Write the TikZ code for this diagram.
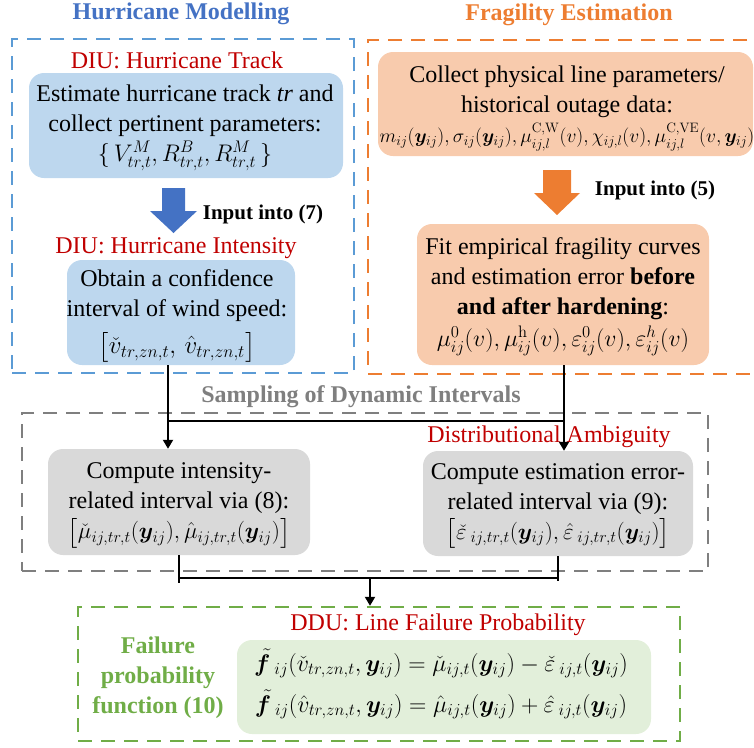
\RequirePackage{fix-cm}
\documentclass[tikz,border=0pt]{standalone}
\usepackage{amsmath}
\usepackage{bm}
\usepackage[no-math]{fontspec}
\setmainfont{Liberation Serif}
\usetikzlibrary{arrows.meta}
\definecolor{hblue}{HTML}{4472C4}
\definecolor{fblue}{HTML}{5B9BD5}
\definecolor{bfill}{HTML}{BDD7EE}
\definecolor{oline}{HTML}{ED7D31}
\definecolor{ofill}{HTML}{F8CBAD}
\definecolor{gline}{HTML}{7F7F7F}
\definecolor{gfill}{HTML}{D9D9D9}
\definecolor{grline}{HTML}{70AD47}
\definecolor{grfill}{HTML}{E2EFDA}
\definecolor{dred}{HTML}{C00000}
\newcommand{\mline}[2]{\smash{\fontsize{#1}{30}\selectfont$#2$}}
\tikzset{
  base/.style={font=\fontsize{24}{30}\selectfont, inner sep=0pt},
  frame/.style={draw, dash pattern=on 14pt off 9pt, line width=2.4pt, inner sep=0pt},
  roundbox/.style={rounded corners=15pt, inner sep=0pt},
  boxtext/.style={base, align=center},
  ttl/.style={font=\fontsize{24}{30}\selectfont\bfseries, inner sep=0pt},
  unitlbl/.style={base, text=dred},
  inlbl/.style={font=\fontsize{21}{26}\selectfont\bfseries, inner sep=0pt},
  conn/.style={line width=2pt},
  arr/.style={conn, -{Triangle[length=9pt,width=10pt]}},
}
\begin{document}
\begin{tikzpicture}[x=1pt,y=-1pt]
\useasboundingbox (0,0) rectangle (754,747);

% frames
\node[frame, draw=fblue, minimum width=342pt, minimum height=334pt] (hframe) at (183,206) {};
\node[frame, draw=oline, minimum width=402pt, minimum height=334pt] (oframe) at (569,207) {};
\node[frame, draw=gline, minimum width=686pt, minimum height=158pt] (gframe) at (365,492) {};
\node[frame, draw=grline, minimum width=602pt, minimum height=134pt] (grframe) at (379,674) {};

% titles
\node[ttl, text=hblue] (t1) at (181,14) {Hurricane Modelling};
\node[ttl, text=oline] (t2) at (569,15) {Fragility Estimation};
\node[ttl, text=gline] (t3) at (361,397) {Sampling of Dynamic Intervals};

% hurricane modelling
\node[unitlbl] (u1) at (177,60) {DIU: Hurricane Track};
\node[roundbox, fill=bfill, minimum width=314pt, minimum height=105pt] (track) at (186,125.5) {};
\node[boxtext] (tracktxt) at (185,122.8)
  {Estimate hurricane track \textit{tr} and\\ collect pertinent parameters:\\
   \mline{24}{\{\,V^{M}_{tr,t},R^{B}_{tr,t},R^{M}_{tr,t}\,\}}};
\fill[hblue] (162,188) -- (185,188) -- (185,211) -- (197,211) -- (173.5,233) -- (150,211) -- (162,211) -- cycle;
\node[inlbl] (in7) at (263,214) {Input into (7)};
\node[unitlbl] (u2) at (176,248) {DIU: Hurricane Intensity};
\node[roundbox, fill=bfill, minimum width=228pt, minimum height=105pt] (intens) at (181,312.5) {};
\node[boxtext] (intenstxt) at (177,311.3)
  {Obtain a confidence\\ interval of wind speed:\\[7pt]
   \mline{25}{\bigl[\check{v}_{tr,zn,t},\,\hat{v}_{tr,zn,t}\bigr]}};

% fragility estimation
\node[roundbox, fill=ofill, minimum width=375pt, minimum height=104pt] (collect) at (565.5,104) {};
\node[boxtext] (collecttxt) at (567,103.8)
  {Collect physical line parameters/\\ historical outage data:\\
   \mline{19.5}{m_{ij}(\bm{y}_{ij}),\sigma_{ij}(\bm{y}_{ij}),\mu^{\mathrm{C,W}}_{ij,l}(v),\chi_{ij,l}(v),\mu^{\mathrm{C,VE}}_{ij,l}(v,\bm{y}_{ij})}};
\fill[oline] (543,170) -- (571,170) -- (571,193) -- (580,193) -- (557,215) -- (534,193) -- (543,193) -- cycle;
\node[inlbl] (in5) at (655,190) {Input into (5)};
\node[roundbox, fill=ofill, minimum width=292pt, minimum height=141pt] (frag) at (563,294.5) {};
\node[boxtext] (fragtxt) at (563,291.8)
  {Fit empirical fragility curves\\ and estimation error \textbf{before}\\ \textbf{and after hardening}:\\[2pt]
   \mline{23.8}{\mu^{0}_{ij}(v),\mu^{\mathrm{h}}_{ij}(v),\varepsilon^{0}_{ij}(v),\varepsilon^{h}_{ij}(v)}};

% sampling
\node[unitlbl] (u3) at (549,437) {Distributional Ambiguity};
\node[roundbox, fill=gfill, minimum width=262pt, minimum height=106pt] (comp1) at (179,502) {};
\node[boxtext] (comp1txt) at (179,500.8)
  {Compute intensity-\\ related interval via (8):\\
   \mline{23}{\bigl[\check{\mu}_{ij,tr,t}(\bm{y}_{ij}),\hat{\mu}_{ij,tr,t}(\bm{y}_{ij})\bigr]}};
\node[roundbox, fill=gfill, minimum width=270pt, minimum height=105pt] (comp2) at (558,503.5) {};
\node[boxtext] (comp2txt) at (558,501.5)
  {Compute estimation error-\\ related interval via (9):\\
   \mline{23}{\bigl[\check{\varepsilon}\,{}_{ij,tr,t}(\bm{y}_{ij}),\hat{\varepsilon}\,{}_{ij,tr,t}(\bm{y}_{ij})\bigr]}};

% failure probability
\node[unitlbl] (u4) at (438,625) {DDU: Line Failure Probability};
\node[ttl, text=grline, align=center] (fpf) at (158,678) {Failure\\ probability\\ function (10)};
\node[roundbox, fill=grfill, minimum width=414pt, minimum height=94pt] (fail) at (444,687) {};
\node[boxtext] (failtxt) at (441,691.5)
  {\mline{24}{\tilde{\bm{f}}\,{}_{ij}(\check{v}_{tr,zn,t},\bm{y}_{ij})=\check{\mu}_{ij,t}(\bm{y}_{ij})-\check{\varepsilon}\,{}_{ij,t}(\bm{y}_{ij})}\\[11pt]
   \mline{24}{\tilde{\bm{f}}\,{}_{ij}(\hat{v}_{tr,zn,t},\bm{y}_{ij})=\hat{\mu}_{ij,t}(\bm{y}_{ij})+\hat{\varepsilon}\,{}_{ij,t}(\bm{y}_{ij})}};

% connectors
\coordinate (xa) at (168,421);
\coordinate (xb) at (564,421);
\draw[arr] (intens.south -| xa) -- (comp1.north -| xa);
\draw[arr] (frag.south -| xb) -- (comp2.north -| xb);
\draw[conn] (xa) -- (xb);
\coordinate (ya) at (179,578);
\coordinate (yb) at (558,578);
\coordinate (ym) at (370,578);
\coordinate (ya2) at (179,583);
\coordinate (yb2) at (558,581);
\draw[conn] (comp1.south -| ya) -- (ya2);
\draw[conn] (comp2.south -| yb) -- (yb2);
\draw[conn] (ya) -- (yb);
\draw[arr] (ym) -- (grframe.north -| ym);
\end{tikzpicture}
\end{document}
